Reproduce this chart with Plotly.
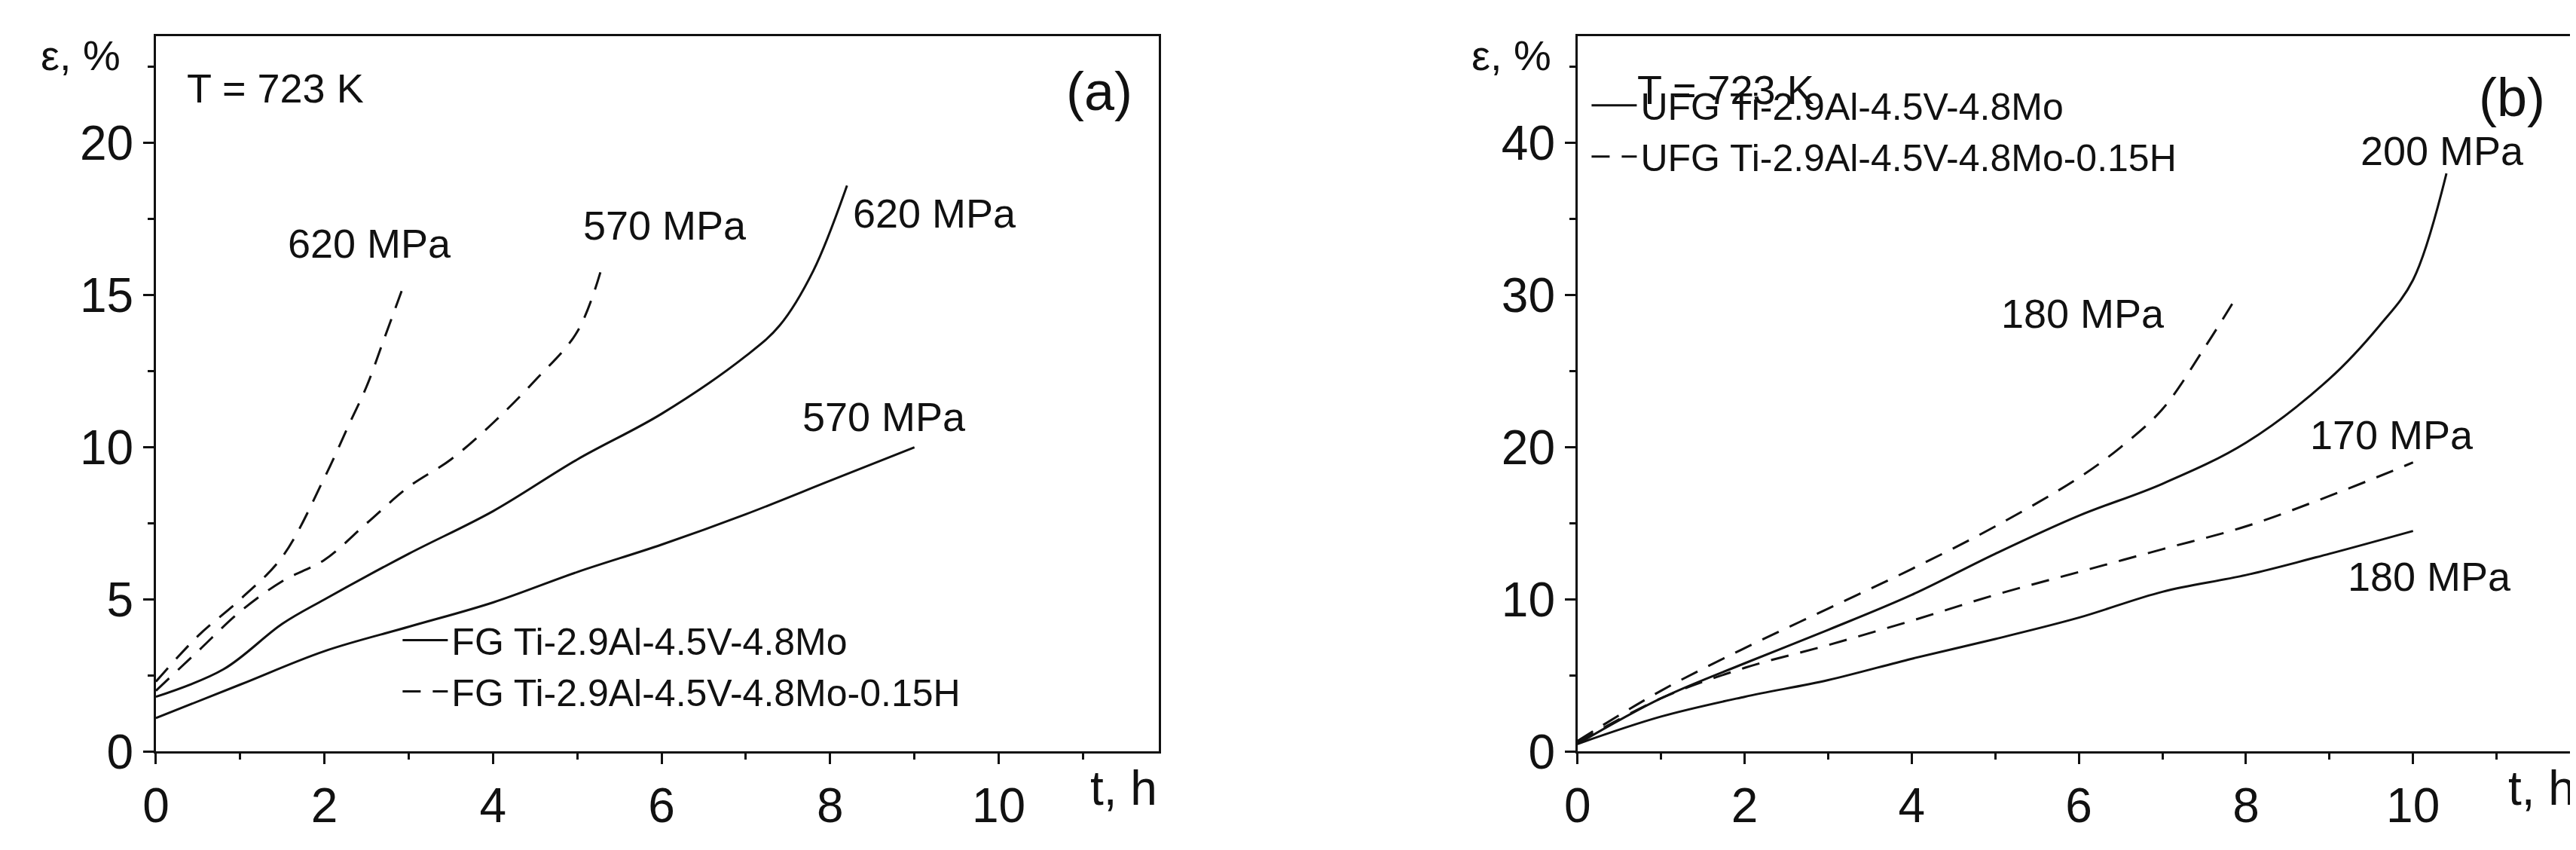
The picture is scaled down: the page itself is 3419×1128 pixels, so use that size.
import plotly.graph_objects as go

# Panel (a)
a_s570_t = [0, 1, 2, 3, 4, 5, 6, 7, 8, 9]
a_s570_e = [1.1, 2.2, 3.3, 4.1, 4.9, 5.9, 6.8, 7.8, 8.9, 10.0]
a_s620_t = [0, 0.8, 1.5, 2, 3, 4, 5, 6, 7, 7.4, 7.8, 8.2]
a_s620_e = [1.8, 2.7, 4.2, 5.0, 6.5, 7.9, 9.6, 11.1, 13.0, 14.0, 15.8, 18.6]
a_d570_t = [0, 0.5, 1, 1.5, 2, 2.5, 3, 3.5, 4, 4.5, 5, 5.3]
a_d570_e = [2.0, 3.3, 4.6, 5.6, 6.3, 7.5, 8.7, 9.6, 10.8, 12.2, 13.8, 16.0]
a_d620_t = [0, 0.5, 1, 1.5, 2, 2.3, 2.5, 2.7, 2.95]
a_d620_e = [2.3, 3.8, 5.0, 6.4, 9.0, 10.8, 12.0, 13.5, 15.4]

# Panel (b)
b_s180_t = [0, 1, 2, 3, 4, 5, 6, 7, 8, 9, 10]
b_s180_e = [0.5, 2.3, 3.6, 4.7, 6.1, 7.4, 8.8, 10.5, 11.6, 13.0, 14.5]
b_s200_t = [0, 1, 2, 3, 4, 5, 6, 7, 8, 9, 9.6, 10, 10.4]
b_s200_e = [0.5, 3.5, 5.8, 8.0, 10.3, 13.0, 15.5, 17.6, 20.3, 24.5, 28.0, 31.0, 38.0]
b_d170_t = [0, 1, 2, 3, 4, 5, 6, 7, 8, 9, 10]
b_d170_e = [0.6, 3.5, 5.5, 7.0, 8.6, 10.3, 11.8, 13.3, 14.8, 16.8, 19.0]
b_d180_t = [0, 1, 2, 3, 4, 5, 6, 6.5, 7, 7.5, 7.9]
b_d180_e = [0.7, 4.0, 6.8, 9.4, 12.0, 14.8, 18.0, 20.0, 22.5, 26.5, 30.0]

FONT = "Liberation Sans Narrow, Liberation Sans, Arial"
BLK = "#111"
fig = go.Figure()

def line(x, y, dash, xa, ya, name=None, legend=None, w=3):
    fig.add_trace(go.Scatter(x=x, y=y, mode="lines", xaxis=xa, yaxis=ya,
                             line=dict(color=BLK, width=w, dash=dash, shape="spline"),
                             name=name or "", showlegend=name is not None,
                             legend=legend or "legend"))

DASH = "24px,16px"
line(a_s570_t, a_s570_e, "solid", "x", "y", "FG Ti-2.9Al-4.5V-4.8Mo", "legend")
line(a_s620_t, a_s620_e, "solid", "x", "y")
line(a_d570_t, a_d570_e, DASH, "x", "y", "FG Ti-2.9Al-4.5V-4.8Mo-0.15H", "legend")
line(a_d620_t, a_d620_e, DASH, "x", "y")
line(b_s180_t, b_s180_e, "solid", "x2", "y2", "UFG Ti-2.9Al-4.5V-4.8Mo", "legend2")
line(b_s200_t, b_s200_e, "solid", "x2", "y2")
line(b_d170_t, b_d170_e, DASH, "x2", "y2", "UFG Ti-2.9Al-4.5V-4.8Mo-0.15H", "legend2")
line(b_d180_t, b_d180_e, DASH, "x2", "y2")

axcommon = dict(showgrid=False, zeroline=False, showline=True, linecolor=BLK, linewidth=3,
                mirror=True, ticks="outside", ticklen=14, tickwidth=3, tickcolor=BLK,
                tickfont=dict(family=FONT, size=64, color=BLK))
mn = dict(ticks="outside", ticklen=8, tickwidth=2.5, tickcolor=BLK)

fig.update_layout(
    width=3419, height=1128, margin=dict(l=0, r=0, t=0, b=0),
    plot_bgcolor="white", paper_bgcolor="white", font=dict(family=FONT, color=BLK),
    xaxis=dict(domain=[0.0532, 0.4446], range=[0, 11.9], dtick=2, anchor="y",
               minor=dict(dtick=1, **mn), **axcommon),
    yaxis=dict(domain=[0.094, 0.963], range=[0, 23.5], dtick=5, anchor="x",
               minor=dict(dtick=2.5, **mn), **axcommon),
    xaxis2=dict(domain=[0.608, 0.996], range=[0, 11.9], dtick=2, anchor="y2",
                minor=dict(dtick=1, **mn), **axcommon),
    yaxis2=dict(domain=[0.094, 0.963], range=[0, 47], dtick=10, anchor="x2",
                minor=dict(dtick=5, **mn), **axcommon),
    legend=dict(x=0.148, y=0.265, xanchor="left", yanchor="top", bgcolor="rgba(0,0,0,0)",
                font=dict(family=FONT, size=50, color=BLK), tracegroupgap=0, itemwidth=60),
    legend2=dict(x=0.612, y=0.915, xanchor="left", yanchor="top", bgcolor="rgba(0,0,0,0)",
                 font=dict(family=FONT, size=50, color=BLK), tracegroupgap=0, itemwidth=60),
)

def ann(text, x, y, xref, yref, size=54, xanchor="left", yanchor="middle"):
    fig.add_annotation(text=text, x=x, y=y, xref=xref, yref=yref, showarrow=False,
                       xanchor=xanchor, yanchor=yanchor, font=dict(family=FONT, size=size, color=BLK))

# panel (a) labels
ann("T = 723 K", 0.35, 21.8, "x", "y")
ann("(a)", 11.6, 21.7, "x", "y", size=72, xanchor="right")
ann("620 MPa", 1.55, 16.7, "x", "y")
ann("570 MPa", 5.05, 17.3, "x", "y")
ann("620 MPa", 8.25, 17.7, "x", "y")
ann("570 MPa", 7.65, 11.0, "x", "y")
ann("ε, %", 0.0075, 0.94, "paper", "paper", size=56)
ann("t, h", 0.4446, 0.015, "paper", "paper", size=64, xanchor="right", yanchor="bottom")
# panel (b) labels
ann("T = 723 K", 0.7, 43.5, "x2", "y2")
ann("(b)", 11.6, 43.0, "x2", "y2", size=72, xanchor="right")
ann("200 MPa", 9.35, 39.5, "x2", "y2")
ann("180 MPa", 5.05, 28.8, "x2", "y2")
ann("170 MPa", 8.75, 20.8, "x2", "y2")
ann("180 MPa", 9.2, 11.5, "x2", "y2")
ann("ε, %", 0.566, 0.94, "paper", "paper", size=56)
ann("t, h", 0.998, 0.015, "paper", "paper", size=64, xanchor="right", yanchor="bottom")

fig.write_html("out.html")
